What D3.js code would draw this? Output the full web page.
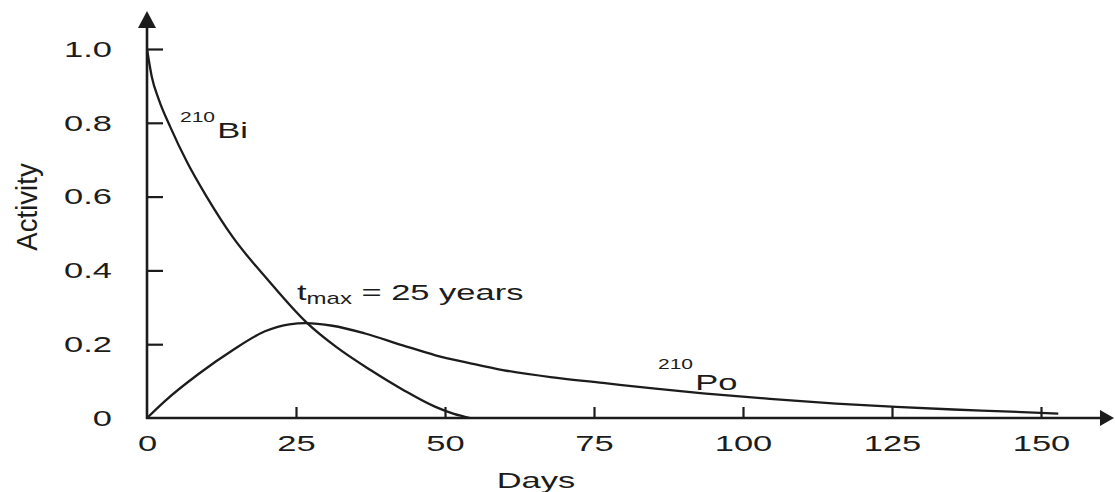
<!DOCTYPE html>
<html><head><meta charset="utf-8">
<script src="https://cdn.jsdelivr.net/npm/d3@7"></script>
<style>
body{margin:0;background:#fff}
svg{display:block;background:#fff}
text{font-family:"Liberation Sans",Arial,Helvetica,sans-serif;fill:#1c1c1c}
</style>
</head><body>
<svg id="chart" width="1115" height="492"></svg>
<script>
// ---- data ----
const xTicks = [0, 25, 50, 75, 100, 125, 150];
const xTickLabels = ["0", "25", "50", "75", "100", "125", "150"];
const yTicks = [0, 0.2, 0.4, 0.6, 0.8, 1.0];
const yTickLabels = ["0", "0.2", "0.4", "0.6", "0.8", "1.0"];

const biDays     = [0, 0.8, 2.0, 3.9, 6.8, 10.0, 14.4, 20.3, 26.7, 31.8, 37.5, 43.0, 48.4, 51.5, 54.2];
const biActivity = [1.0, 0.925, 0.862, 0.789, 0.691, 0.600, 0.490, 0.374, 0.260, 0.192, 0.130, 0.076, 0.030, 0.011, 0.0];

const poDays     = [0, 3.0, 8.7, 14.3, 19.8, 23.9, 26.6, 31.1, 36.6, 42.9, 48.4, 54.1, 59.7, 68.1, 76.5, 84.9, 93.3, 104.5, 115.6, 125.7, 135.3, 143.7, 152.9];
const poActivity = [0, 0.046, 0.120, 0.183, 0.235, 0.254, 0.257, 0.250, 0.229, 0.197, 0.170, 0.149, 0.130, 0.110, 0.095, 0.080, 0.067, 0.052, 0.039, 0.030, 0.023, 0.018, 0.012];

// ---- drawing ----
const svg = d3.select("#chart");
const W = 1115, H = 492;
const ink = "#1c1c1c";
const SX = 1.5; // horizontal stretch of lettering in the reference

const x = d3.scaleLinear().domain([0, 150]).range([147, 1041]);
const y = d3.scaleLinear().domain([0, 1]).range([418, 49]);

svg.append("rect").attr("width", W).attr("height", H).attr("fill", "#fff");

// axes lines with arrows
const x0 = x(0), y0 = y(0);
svg.append("line").attr("x1", x0).attr("y1", y0 + 1).attr("x2", x0).attr("y2", 22)
  .attr("stroke", ink).attr("stroke-width", 2.6);
svg.append("path").attr("d", `M${x0},11 L${x0 - 9},28 L${x0 + 9},28 Z`).attr("fill", ink);
svg.append("line").attr("x1", x0 - 1).attr("y1", y0).attr("x2", 1104).attr("y2", y0)
  .attr("stroke", ink).attr("stroke-width", 2.6);
svg.append("path").attr("d", `M1114,${y0} L1100,${y0 - 8} L1100,${y0 + 8} Z`).attr("fill", ink);

function stretchText(sel) {
  sel.each(function () {
    const t = d3.select(this);
    const tx = +t.attr("x") || 0;
    t.attr("x", 0).attr("transform", `translate(${tx},0) scale(${SX},1)`);
  });
}

// y axis
const gy = svg.append("g").attr("transform", `translate(${x0},0)`)
  .call(d3.axisLeft(y).tickValues(yTicks).tickFormat((d, i) => yTickLabels[i])
    .tickSizeInner(-16).tickSizeOuter(0).tickPadding(35));
gy.select(".domain").remove();
gy.selectAll(".tick line").attr("stroke", ink).attr("stroke-width", 2.2);
gy.selectAll(".tick").filter(d => d === 0).select("line").remove();
gy.selectAll(".tick text").attr("font-size", 23).attr("font-family", '"Liberation Sans",Arial,sans-serif').attr("fill", ink);
stretchText(gy.selectAll(".tick text"));

// x axis
const gx = svg.append("g").attr("transform", `translate(0,${y0})`)
  .call(d3.axisBottom(x).tickValues(xTicks).tickFormat((d, i) => xTickLabels[i])
    .tickSizeInner(-11).tickSizeOuter(0).tickPadding(17));
gx.select(".domain").remove();
gx.selectAll(".tick line").attr("stroke", ink).attr("stroke-width", 2.2);
gx.selectAll(".tick").filter(d => d === 0).select("line").remove();
gx.selectAll(".tick text").attr("font-size", 23).attr("font-family", '"Liberation Sans",Arial,sans-serif').attr("fill", ink);
stretchText(gx.selectAll(".tick text"));

// curves
const line = d3.line().x(d => x(d[0])).y(d => y(d[1])).curve(d3.curveMonotoneX);
const bi = biDays.map((d, i) => [d, biActivity[i]]);
const po = poDays.map((d, i) => [d, poActivity[i]]);
svg.append("path").attr("d", line(bi)).attr("fill", "none").attr("stroke", ink).attr("stroke-width", 2.3);
svg.append("path").attr("d", line(po)).attr("fill", "none").attr("stroke", ink).attr("stroke-width", 2.3);

// axis titles
svg.append("text").attr("transform", `translate(536,488) scale(${SX},1)`)
  .attr("text-anchor", "middle").attr("font-size", 23).text("Days");
svg.append("text").attr("transform", `translate(27,207) rotate(-90) scale(1.2,1.25)`)
  .attr("text-anchor", "middle").attr("dy", "0.36em").attr("font-size", 23).text("Activity");

// annotations
const biLab = svg.append("text").attr("transform", `translate(180,138) scale(${SX},1)`);
biLab.append("tspan").attr("font-size", 14).attr("dy", -16).text("210");
biLab.append("tspan").attr("font-size", 23).attr("dx", 1.5).attr("dy", 16).text("Bi");

const poLab = svg.append("text").attr("transform", `translate(658,390) scale(${SX},1)`);
poLab.append("tspan").attr("font-size", 14).attr("dy", -21).text("210");
poLab.append("tspan").attr("font-size", 23).attr("dx", 1.5).attr("dy", 21).text("Po");

const tLab = svg.append("text").attr("transform", `translate(297,300) scale(${SX},1)`);
tLab.append("tspan").attr("font-size", 23).text("t");
tLab.append("tspan").attr("font-size", 16).attr("dy", 4).text("max");
tLab.append("tspan").attr("font-size", 23).attr("dy", -4).text(" = 25 years");
</script>
</body></html>
